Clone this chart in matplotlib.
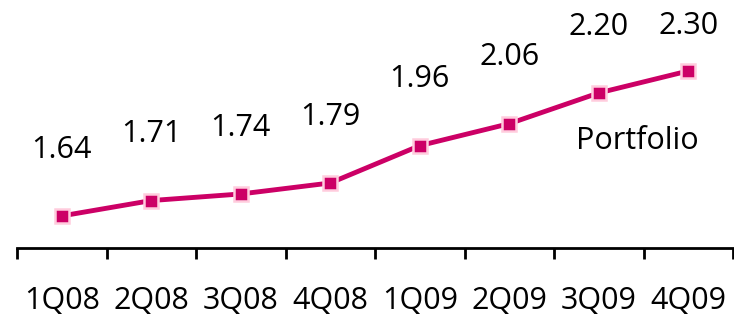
import matplotlib
matplotlib.use("Agg")
import matplotlib.pyplot as plt

quarters = ["1Q08", "2Q08", "3Q08", "4Q08", "1Q09", "2Q09", "3Q09", "4Q09"]
portfolio = [1.64, 1.71, 1.74, 1.79, 1.96, 2.06, 2.20, 2.30]
series_name = "Portfolio"

plt.rcParams['font.family'] = ['Open Sans', 'DejaVu Sans']

line_color = "#CC0066"
edge_color = "#FFCCDD"
font_size = 22

fig = plt.figure(figsize=(7.34, 3.2), dpi=100)
ax = fig.add_axes([17 / 734, 72 / 320, 716 / 734, 248 / 320])

x = list(range(len(quarters)))
ax.plot(x, portfolio, color=line_color, lw=3.5, marker="s", ms=10.5,
        mfc=line_color, mec=edge_color, mew=1.8, zorder=3)

ax.set_xlim(-0.5, len(quarters) - 0.5)
y_bottom, y_top = 1.494, 2.623
ax.set_ylim(y_bottom, y_top)

# value labels above each point, kept below the top edge
label_offset = 0.302
label_cap = y_top - 0.12
for xi, v in zip(x, portfolio):
    ax.text(xi, min(v + label_offset, label_cap), f"{v:.2f}",
            ha="center", va="center", fontsize=font_size, color="black")

ax.text(0.866, 0.431, series_name, transform=ax.transAxes,
        ha="center", va="center", fontsize=font_size, color="black")

for side in ("top", "right", "left"):
    ax.spines[side].set_visible(False)
ax.spines["bottom"].set_linewidth(2)
ax.set_yticks([])

# ticks at category boundaries, labels centred on categories
ax.set_xticks([i - 0.5 for i in range(len(quarters) + 1)])
ax.set_xticklabels([])
ax.tick_params(axis="x", which="major", direction="out", length=8, width=2)
ax.set_xticks(x, minor=True)
ax.set_xticklabels(quarters, minor=True, fontsize=font_size)
ax.tick_params(axis="x", which="minor", length=0, pad=27)

fig.savefig("out.png", dpi=100)
